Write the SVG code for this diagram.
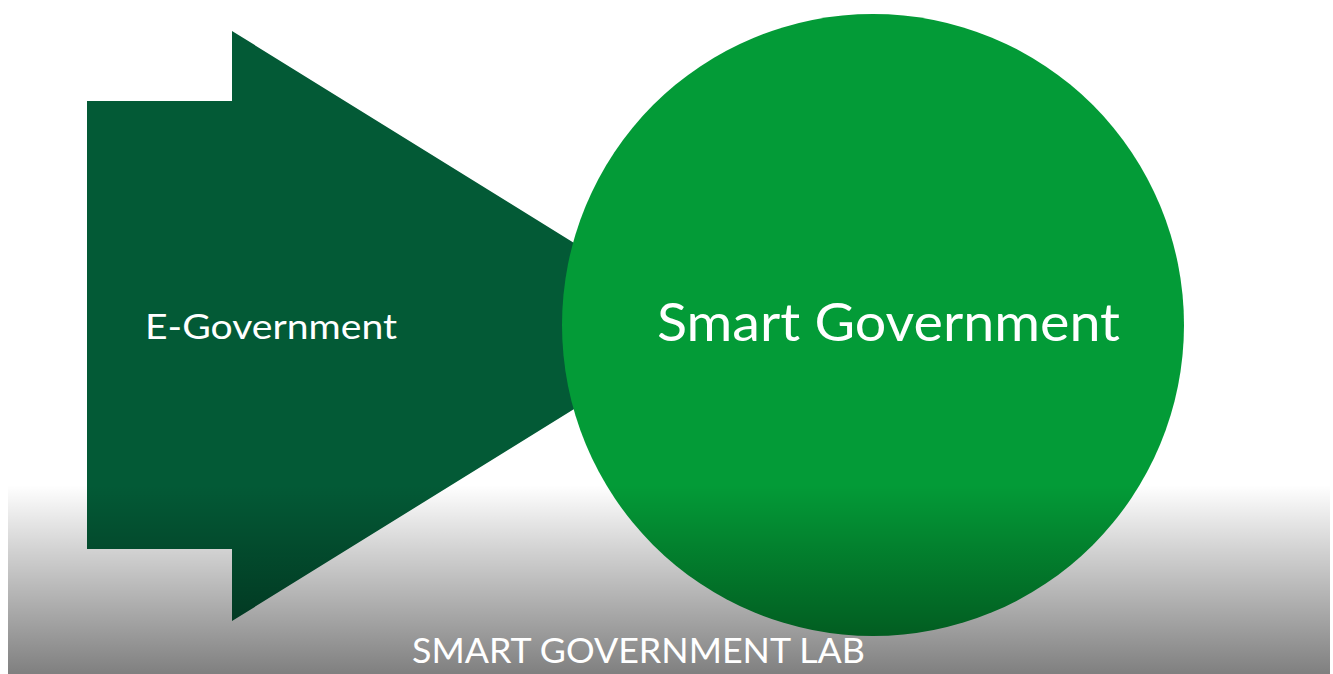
<svg xmlns="http://www.w3.org/2000/svg" width="1333" height="674" viewBox="0 0 1333 674">
<defs>
<linearGradient id="shade" x1="0" y1="485" x2="0" y2="674" gradientUnits="userSpaceOnUse">
<stop offset="0" stop-color="#000" stop-opacity="0"/>
<stop offset="0.35" stop-color="#000" stop-opacity="0.18"/>
<stop offset="1" stop-color="#000" stop-opacity="0.5"/>
</linearGradient>
<style>
.lbl{font-family:Lato,"Open Sans","Liberation Sans",sans-serif;fill:#fff}
</style>
</defs>
<rect width="1333" height="674" fill="#fff"/>
<g id="e-government">
<polygon points="87,101 232,101 232,31 708,326 232,621 232,549 87,549" fill="#035a36"/>
</g>
<g id="smart-government">
<circle cx="873" cy="325" r="311" fill="#039b37"/>
</g>
<g id="connectors"/>
<rect x="8" y="485" width="1322" height="189" fill="url(#shade)"/>
<text class="lbl" x="145" y="339" font-size="35" textLength="252" lengthAdjust="spacingAndGlyphs">E-Government</text>
<text class="lbl" x="657" y="341" font-size="52" textLength="463" lengthAdjust="spacingAndGlyphs">Smart Government</text>
<text class="lbl" x="412" y="663" font-size="35" textLength="453" lengthAdjust="spacingAndGlyphs">SMART GOVERNMENT LAB</text>
</svg>
